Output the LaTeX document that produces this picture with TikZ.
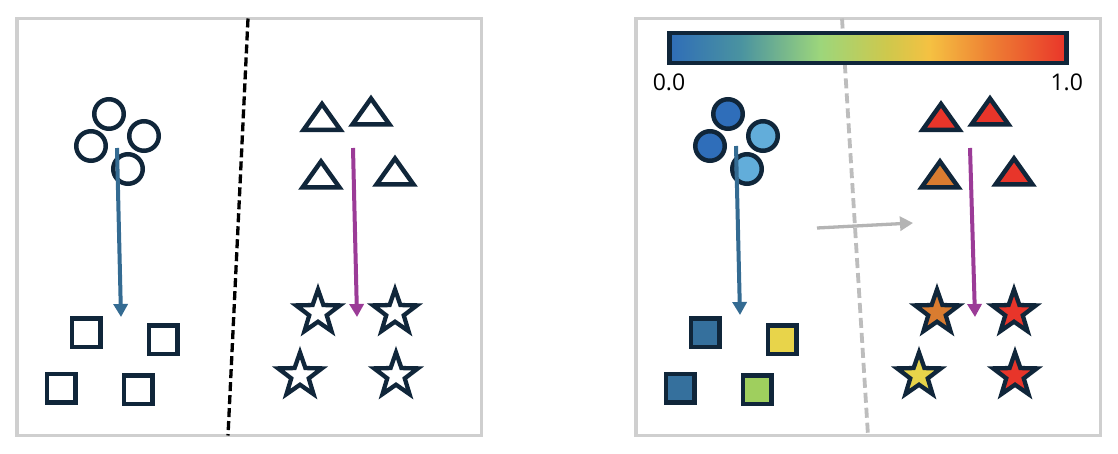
\documentclass[tikz,border=0pt]{standalone}
\usepackage{fontspec}
\setmainfont{Open Sans}
\usetikzlibrary{arrows.meta,shapes.geometric}
\definecolor{ink}{HTML}{10263A}
\definecolor{boxgray}{HTML}{CFCFCF}
\definecolor{dashgray}{HTML}{BDBDBD}
\definecolor{arrgray}{HTML}{B4B4B4}
\definecolor{arrblue}{HTML}{346B92}
\definecolor{arrmag}{HTML}{9B3B97}
\definecolor{cdark}{HTML}{2F6EBA}
\definecolor{clight}{HTML}{62ADDA}
\definecolor{csteel}{HTML}{35709D}
\definecolor{cyellow}{HTML}{E8D44A}
\definecolor{cgreen}{HTML}{9FCF5E}
\definecolor{cred}{HTML}{E8352A}
\definecolor{corange}{HTML}{D97C30}
\definecolor{cb0}{HTML}{2F6DB8}
\definecolor{cb1}{HTML}{4A93A0}
\definecolor{cb2}{HTML}{9DD67B}
\definecolor{cb3}{HTML}{CFC84C}
\definecolor{cb4}{HTML}{F5C142}
\definecolor{cb5}{HTML}{EE8334}
\definecolor{cb6}{HTML}{E9352A}
\pgfdeclarehorizontalshading{cbar}{50bp}{color(0bp)=(cb0); color(25bp)=(cb0); color(34bp)=(cb1); color(44bp)=(cb2); color(52.5bp)=(cb3); color(57.75bp)=(cb4); color(65bp)=(cb5); color(75bp)=(cb6); color(100bp)=(cb6)}
\begin{document}
\begin{tikzpicture}[x=1pt,y=-1pt,
  panelbox/.style={draw=boxgray, line width=3.5pt},
  ring/.style={circle, draw=ink, line width=4.5pt, minimum size=29.5pt, inner sep=0pt, fill=#1},
  ring/.default=white,
  sq/.style={rectangle, draw=ink, line width=4.5pt, minimum size=28.5pt, inner sep=0pt, fill=#1},
  sq/.default=white,
  starshape/.style={star, star points=5, star point ratio=2.5, draw=ink, line width=4.3pt, minimum size=46pt, inner sep=0pt, fill=#1},
  starshape/.default=white,
  tri/.pic={\draw[draw=ink, line width=4.5pt, fill=#1] (0,-15.5) -- (18.5,10.5) -- (-18.5,10.5) -- cycle;},
  flowarrow/.style={line width=4pt, -{Triangle[width=14pt,length=13pt]}},
  cblabel/.style={font=\fontsize{23}{27}\selectfont, inner sep=0pt, anchor=base}
]
\useasboundingbox (0,0) rectangle (1118,454);
\fill[white] (0,0) rectangle (1118,454);
% panels
\draw[panelbox] (17,18.5) rectangle (481.5,435.5);
\draw[panelbox] (636,18.5) rectangle (1100.5,435.5);
% dividers
\coordinate (d1a) at (248,18.5); \coordinate (d1b) at (228,435.5);
\draw[black, line width=3.3pt, dash pattern=on 9pt off 4pt] (d1a) -- (d1b);
\coordinate (d2a) at (842,18.5); \coordinate (d2b) at (868,435.5);
\draw[dashgray, line width=3.8pt, dash pattern=on 10pt off 5pt] (d2a) -- (d2b);
% ---- left panel ----
\node[ring] (lc1) at (109,114) {};
\node[ring] (lc2) at (91,146) {};
\node[ring] (lc3) at (144,136) {};
\node[ring] (lc4) at (128,169) {};
\node[sq] (ls1) at (86,332.5) {};
\node[sq] (ls2) at (163,339.5) {};
\node[sq] (ls3) at (61,388) {};
\node[sq] (ls4) at (138,389.5) {};
\pic at (322,119.5) {tri=white};
\pic at (371,114) {tri=white};
\pic at (321,177) {tri=white};
\pic at (395,174) {tri=white};
\node[starshape] (lt1) at (318,312.5) {};
\node[starshape] (lt2) at (395,312.5) {};
\node[starshape] (lt3) at (300,375.5) {};
\node[starshape] (lt4) at (396,375.5) {};
\coordinate (lba) at (117,148); \coordinate (lbb) at (121,317);
\draw[flowarrow, arrblue] (lba) -- (lbb);
\coordinate (lma) at (353,148); \coordinate (lmb) at (357,317);
\draw[flowarrow, arrmag] (lma) -- (lmb);
% ---- right panel ----
\node[ring=cdark] (rc1) at (728,114) {};
\node[ring=cdark] (rc2) at (710,146) {};
\node[ring=clight] (rc3) at (763,136) {};
\node[ring=clight] (rc4) at (747,169) {};
\node[sq=csteel] (rs1) at (705,332.5) {};
\node[sq=cyellow] (rs2) at (782,339.5) {};
\node[sq=csteel] (rs3) at (680,388) {};
\node[sq=cgreen] (rs4) at (757,389.5) {};
\pic at (941,119.5) {tri=cred};
\pic at (990,114) {tri=cred};
\pic at (940,177) {tri=corange};
\pic at (1014,174) {tri=cred};
\node[starshape=corange] (rt1) at (937,312.5) {};
\node[starshape=cred] (rt2) at (1014,312.5) {};
\node[starshape=cyellow] (rt3) at (919,375.5) {};
\node[starshape=cred] (rt4) at (1015,375.5) {};
\coordinate (rba) at (736,146); \coordinate (rbb) at (740,315);
\draw[flowarrow, arrblue] (rba) -- (rbb);
\coordinate (rma) at (970,148); \coordinate (rmb) at (975,317);
\draw[flowarrow, arrmag] (rma) -- (rmb);
\coordinate (ga) at (817,228); \coordinate (gb) at (913,223);
\draw[flowarrow, arrgray, line width=3.3pt] (ga) -- (gb);
% colorbar
\node[draw=ink, line width=4.3pt, shade, shading=cbar, minimum width=397pt, minimum height=30pt, inner sep=0pt] (cbar) at (868,48) {};
\node[cblabel] (lab0) at (669,90.7) {0.0};
\node[cblabel] (lab1) at (1066.7,90.7) {1.0};
\end{tikzpicture}
\end{document}
